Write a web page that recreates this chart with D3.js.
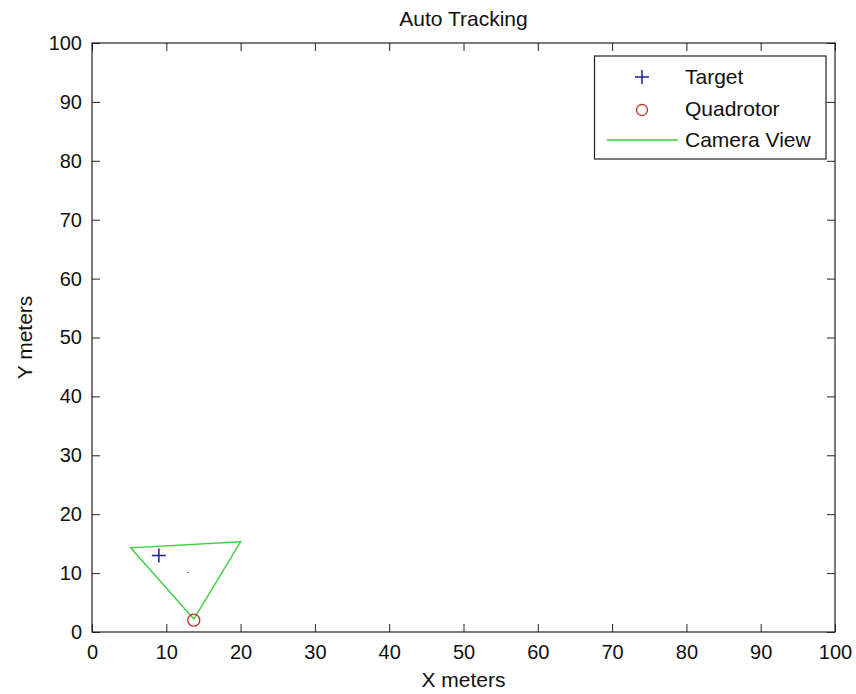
<!DOCTYPE html>
<html lang="en">
<head>
  <meta charset="UTF-8">
  <title>Auto Tracking</title>
  <script src="https://d3js.org/d3.v7.min.js"></script>
  <style>
    body { margin: 0; background: #fff; }
    text { font-family: "Liberation Sans", Arial, sans-serif; fill: #111; }
    .tick-label { font-size: 20px; }
    .legend-text { font-size: 21px; }
    .title, .axis-label { font-size: 21px; }
  </style>
</head>
<body>
  <div id="chart"></div>
  <script>
    // Data
    const tickValues = [0, 10, 20, 30, 40, 50, 60, 70, 80, 90, 100];
    const targetX = [9];
    const targetY = [13];
    const quadX = [13.7];
    const quadY = [2];
    const cameraX = [13.7, 5.2, 20, 13.7];
    const cameraY = [2.2, 14.3, 15.3, 2.2];
    const centerDotX = [12.9];
    const centerDotY = [10.1];

    const W = 856, H = 694;
    const margin = { top: 43, right: 21, bottom: 62, left: 92 },
          width  = W - margin.left - margin.right,
          height = H - margin.top - margin.bottom;

    const svg = d3.select("#chart").append("svg")
      .attr("width", W).attr("height", H);
    const g = svg.append("g")
      .attr("transform", `translate(${margin.left},${margin.top})`);

    const x = d3.scaleLinear().domain([0, 100]).range([0, width]);
    const y = d3.scaleLinear().domain([0, 100]).range([height, 0]);

    // Axes with inward ticks (and mirrored on top/right)
    const axisStyle = sel => {
      sel.select(".domain").remove();
      sel.selectAll(".tick line").attr("stroke", "#222");
    };
    g.append("g").attr("transform", `translate(0,${height})`)
      .call(d3.axisBottom(x).tickValues(tickValues).tickSizeInner(-8).tickSizeOuter(0).tickPadding(13))
      .call(axisStyle)
      .selectAll("text").attr("class", "tick-label").attr("font-size", null).attr("font-family", null);
    g.append("g")
      .call(d3.axisLeft(y).tickValues(tickValues).tickSizeInner(-8).tickSizeOuter(0).tickPadding(10))
      .call(axisStyle)
      .selectAll("text").attr("class", "tick-label").attr("font-size", null).attr("font-family", null);
    g.append("g")
      .call(d3.axisTop(x).tickValues(tickValues).tickSizeInner(-8).tickSizeOuter(0).tickFormat(""))
      .call(axisStyle);
    g.append("g").attr("transform", `translate(${width},0)`)
      .call(d3.axisRight(y).tickValues(tickValues).tickSizeInner(-8).tickSizeOuter(0).tickFormat(""))
      .call(axisStyle);
    g.selectAll(".tick text").attr("fill", "#111");

    // Box
    g.append("rect")
      .attr("x", 0).attr("y", 0).attr("width", width).attr("height", height)
      .attr("fill", "none").attr("stroke", "#222").attr("stroke-width", 1.2);

    // Camera view triangle
    const line = d3.line().x((d, i) => x(cameraX[i])).y((d, i) => y(cameraY[i]));
    g.append("path").datum(cameraX)
      .attr("d", line)
      .attr("fill", "none").attr("stroke", "#3fcf3f").attr("stroke-width", 1.4);

    // Small center dot
    g.selectAll(".cdot").data(centerDotX).enter().append("circle")
      .attr("cx", d => x(d)).attr("cy", (d, i) => y(centerDotY[i]))
      .attr("r", 0.8).attr("fill", "#444");

    // Target (+)
    const plus = (sel, cx, cy, r) => {
      sel.append("path")
        .attr("d", `M${cx - r},${cy}H${cx + r}M${cx},${cy - r}V${cy + r}`)
        .attr("stroke", "#1f1f96").attr("stroke-width", 1.5);
    };
    targetX.forEach((d, i) => plus(g, x(d), y(targetY[i]), 7));

    // Quadrotor (o)
    g.selectAll(".quad").data(quadX).enter().append("circle")
      .attr("cx", d => x(d)).attr("cy", (d, i) => y(quadY[i]))
      .attr("r", 6).attr("fill", "none").attr("stroke", "#b8332e").attr("stroke-width", 1.3);

    // Title and axis labels
    svg.append("text").attr("class", "title")
      .attr("x", margin.left + width / 2).attr("y", 26)
      .attr("text-anchor", "middle").text("Auto Tracking");
    svg.append("text").attr("class", "axis-label")
      .attr("x", margin.left + width / 2).attr("y", 687)
      .attr("text-anchor", "middle").text("X meters");
    svg.append("text").attr("class", "axis-label")
      .attr("transform", `translate(32,${margin.top + height / 2}) rotate(-90)`)
      .attr("text-anchor", "middle").text("Y meters");

    // Legend
    const lg = svg.append("g");
    lg.append("rect")
      .attr("x", 594.5).attr("y", 56).attr("width", 231.5).attr("height", 103)
      .attr("fill", "#fff").attr("stroke", "#222").attr("stroke-width", 1.2);
    plus(lg, 642, 77, 7);
    lg.append("circle").attr("cx", 642).attr("cy", 110).attr("r", 5.5)
      .attr("fill", "none").attr("stroke", "#b8332e").attr("stroke-width", 1.3);
    lg.append("line").attr("x1", 607).attr("x2", 678).attr("y1", 140).attr("y2", 140)
      .attr("stroke", "#3fcf3f").attr("stroke-width", 1.4);
    const legendLabels = ["Target", "Quadrotor", "Camera View"];
    const legendBase = [84, 116, 147];
    legendLabels.forEach((t, i) => {
      lg.append("text").attr("class", "legend-text")
        .attr("x", 685).attr("y", legendBase[i]).text(t);
    });
  </script>
</body>
</html>
